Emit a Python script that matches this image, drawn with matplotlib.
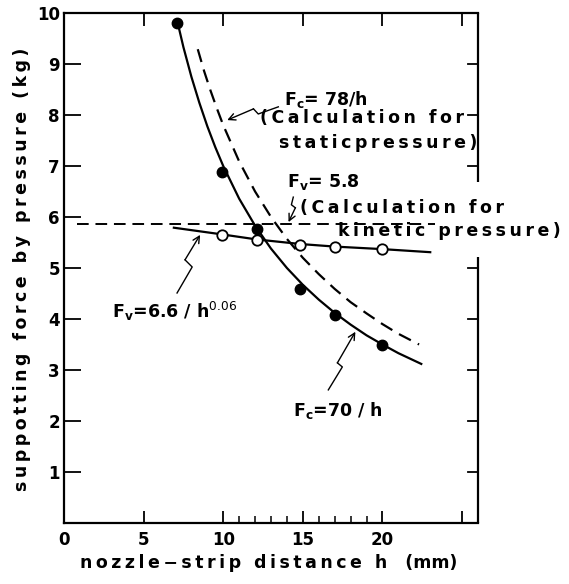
import matplotlib
matplotlib.use("Agg")
import matplotlib.pyplot as plt
import matplotlib.transforms as mtransforms

# ---- data ----
# measured Fc (filled circles)
fc_h = [7.1, 9.95, 12.1, 14.85, 17.0, 20.0]
fc_val = [9.8, 6.88, 5.77, 4.58, 4.07, 3.5]
# measured Fv (open circles)
fv_h = [9.9, 12.1, 14.85, 17.0, 19.95]
fv_val = [5.65, 5.55, 5.46, 5.41, 5.37]
# fitted curve Fc = 70/h (solid)
c70_h = [7.1, 7.5, 8.0, 8.5, 9.0, 9.5, 10.0, 11.0, 12.0, 13.0, 14.0, 15.0, 16.0, 17.0, 18.0, 19.0, 20.0, 21.0, 22.5]
c70_v = [9.86, 9.33, 8.75, 8.24, 7.78, 7.37, 7.0, 6.36, 5.83, 5.38, 5.0, 4.67, 4.38, 4.12, 3.89, 3.68, 3.5, 3.33, 3.11]
# calculation for static pressure Fc = 78/h (dashed)
c78_h = [8.4, 8.8, 9.2, 9.6, 10.0, 11.0, 12.0, 13.0, 14.0, 15.0, 16.0, 17.0, 18.0, 19.0, 20.0, 21.0, 22.3]
c78_v = [9.29, 8.86, 8.48, 8.13, 7.8, 7.09, 6.5, 6.0, 5.57, 5.2, 4.88, 4.59, 4.33, 4.11, 3.9, 3.71, 3.5]
# fitted curve Fv = 6.6/h^0.06 (solid)
fvfit_h = [6.9, 9.9, 12.1, 14.85, 17.0, 20.0, 23.0]
fvfit_v = [5.79, 5.66, 5.56, 5.47, 5.42, 5.37, 5.31]
# kinetic pressure calculation Fv = 5.8 (dashed)
kin_h = [0.8, 23.3]
kin_v = [5.86, 5.86]

x_ticks = [0, 5, 10, 15, 20, 25]
x_labels = ["0", "5", "10", "15", "20", ""]
x_minor = [11, 12, 13, 14, 16, 17, 18, 19]
y_ticks = [1, 2, 3, 4, 5, 6, 7, 8, 9, 10]
y_labels = ["1", "2", "3", "4", "5", "6", "7", "8", "9", "10"]
right_ticks = [1, 2, 3, 4, 5, 7, 8, 9]

plt.rcParams['font.family'] = ['DejaVu Sans']
plt.rcParams['mathtext.fontset'] = 'dejavusans'


def sp(s):
    """letter-spaced text (thin spaces between characters)"""
    return '\u2009'.join(s)


fig = plt.figure(figsize=(5.69, 5.84), dpi=100)
ax = fig.add_axes([64/569, 61/584, 414/569, 510/584])
ax.set_xlim(0, 26)
ax.set_ylim(0, 10)

K = 'black'
ax.plot(c70_h, c70_v, color=K, lw=1.6, solid_capstyle='butt')
ax.plot(c78_h, c78_v, color=K, lw=1.6, dashes=(6, 3.5))
ax.plot(fvfit_h, fvfit_v, color=K, lw=1.6)
ax.plot(kin_h, kin_v, color=K, lw=1.4, dashes=(6, 3.5))
ax.plot(fc_h, fc_val, 'o', color=K, ms=7.5, zorder=5)
ax.plot(fv_h, fv_val, 'o', mfc='white', mec=K, mew=1.3, ms=7.5, zorder=5)

# spines
for s in ['left', 'bottom', 'top']:
    ax.spines[s].set_linewidth(1.6)
ax.spines['right'].set_visible(False)
ax.plot([1, 1], [0, 0.522], transform=ax.transAxes, color=K, lw=1.6, clip_on=False, solid_capstyle='butt')
ax.plot([1, 1], [0.669, 1.0], transform=ax.transAxes, color=K, lw=1.6, clip_on=False, solid_capstyle='butt')
blend = mtransforms.blended_transform_factory(ax.transAxes, ax.transData)
for yv in right_ticks:
    ax.plot([1 - 0.024, 1], [yv, yv], transform=blend, color=K, lw=1.3, clip_on=False)

ax.set_xticks(x_ticks, x_labels)
ax.set_xticks(x_minor, minor=True)
ax.set_yticks(y_ticks, y_labels)
ax.tick_params(axis='x', which='major', direction='in', length=9, width=1.3, top=True, pad=6)
ax.tick_params(axis='x', which='minor', direction='in', length=5, width=1.1, top=False)
ax.tick_params(axis='y', which='major', direction='in', length=12, width=1.3, pad=3)
for lab in ax.get_xticklabels() + ax.get_yticklabels():
    lab.set_fontsize(12)
    lab.set_fontweight('bold')

fig.text(0.038, 0.539, sp("suppotting force by pressure (kg)"), rotation=90,
         ha='center', va='center', fontsize=12.5, fontweight='bold')
fig.text(0.472, 0.036, sp("nozzle\u2212strip distance h") + "   (mm)", ha='center', va='center',
         fontsize=12.5, fontweight='bold')

tkw = dict(fontsize=12.5, fontweight='bold', ha='left', va='center', zorder=6)
ax.text(13.8, 8.3, r"F$_{\mathbf{c}}$= 78/h", **tkw)
ax.text(12.3, 7.95, sp("(Calculation for"), **tkw)
ax.text(13.5, 7.45, sp("staticpressure)"), **tkw)
ax.text(14.0, 6.68, r"F$_{\mathbf{v}}$= 5.8", **tkw)
ax.text(14.8, 6.18, sp("(Calculation for"), clip_on=False, **tkw)
ax.text(17.2, 5.72, sp("kinetic pressure)"), clip_on=False, **tkw)
ax.text(3.0, 4.14, r"F$_{\mathbf{v}}$=6.6 / h$^{0.06}$", **tkw)
ax.text(14.4, 2.2, r"F$_{\mathbf{c}}$=70 / h", **tkw)

# zigzag pointers
def pointer(xs, ys):
    ax.plot(xs[:-1], ys[:-1], color=K, lw=1.0)
    ax.annotate("", xy=(xs[-1], ys[-1]), xytext=(xs[-2], ys[-2]),
                arrowprops=dict(arrowstyle='->', lw=1.0, color=K, shrinkA=0, shrinkB=0,
                                mutation_scale=12))

pointer([13.46, 12.2, 11.9, 10.25], [8.16, 8.02, 8.12, 7.90])
pointer([14.4, 14.28, 14.53, 14.1], [6.39, 6.24, 6.18, 5.90])
pointer([7.1, 8.05, 7.6, 8.55], [4.51, 5.02, 5.16, 5.65])
pointer([16.6, 17.48, 17.17, 18.3], [2.61, 3.06, 3.14, 3.75])

fig.savefig("out.png", dpi=100)
